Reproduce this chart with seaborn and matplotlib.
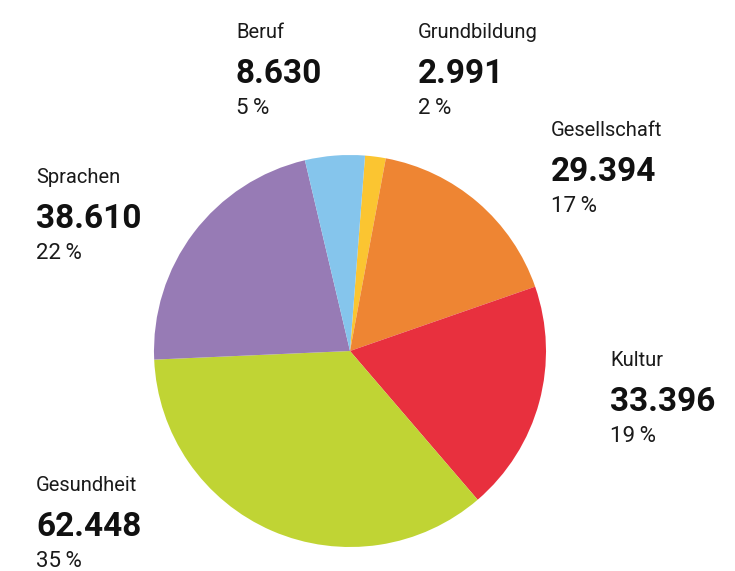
# Teilnahmen nach Programmbereich - Kreisdiagramm
import matplotlib.pyplot as plt
import seaborn as sns

bereiche = ["Grundbildung", "Gesellschaft", "Kultur", "Gesundheit", "Sprachen", "Beruf"]
werte = [2991, 29394, 33396, 62448, 38610, 8630]
prozent = [2, 17, 19, 35, 22, 5]
farben = ["#FBC531", "#EE8533", "#E8303E", "#C0D434", "#977BB5", "#85C5EC"]

# Position der Beschriftungen (Pixel: links, Grundlinie des Namens)
label_pos = {
    "Beruf": (236, 38),
    "Grundbildung": (418, 38),
    "Gesellschaft": (551, 136),
    "Sprachen": (36, 183),
    "Kultur": (610, 366),
    "Gesundheit": (36, 491),
}

sns.set_theme(style="white")
plt.rcParams['font.family'] = ['Roboto', 'DejaVu Sans']

W, H = 735, 571
fig = plt.figure(figsize=(W / 100, H / 100), dpi=100)
ax = fig.add_axes([0, 0, 1, 1])

ax.pie(werte, colors=farben, startangle=85.6, counterclock=False,
       center=(350, H - 351), radius=196, frame=True,
       wedgeprops=dict(linewidth=0))
ax.set_xlim(0, W)
ax.set_ylim(0, H)
ax.set_aspect('equal')
ax.axis('off')

for name, wert, pct in zip(bereiche, werte, prozent):
    x, y = label_pos[name]
    zahl = f"{wert:,}".replace(",", ".")
    ax.text(x, H - y, name, fontsize=14.5, color="#1a1a1a", va="baseline", ha="left")
    ax.text(x, H - y - 45, zahl, fontsize=24, fontweight="bold", color="#111111",
            va="baseline", ha="left")
    ax.text(x, H - y - 76, f"{pct}\u2009%", fontsize=16, color="#1a1a1a",
            va="baseline", ha="left")

fig.savefig("out.png", dpi=100, facecolor="white")
